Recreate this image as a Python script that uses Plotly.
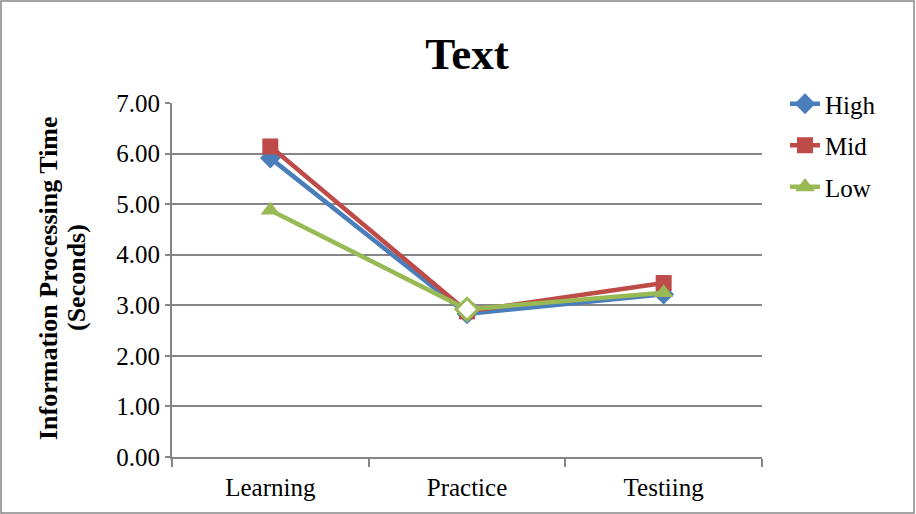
import plotly.graph_objects as go

# Phases on the x axis
phases = ["Learning", "Practice", "Testiing"]

# Information processing time (seconds) per group
high = [5.91, 2.83, 3.22]
mid = [6.14, 2.88, 3.44]
low = [4.88, 2.92, 3.25]

W, H = 916, 514
ML, MR, MT, MB = 172, 154, 103, 57
PW, PH = W - ML - MR, H - MT - MB

FONT = "Liberation Serif, Times New Roman, serif"
GRID = "#868686"

fig = go.Figure()
fig.add_trace(go.Scatter(
    x=phases, y=high, name="High", mode="lines+markers", legendgroup="h",
    line=dict(color="#4A7EBB", width=4.5),
    marker=dict(symbol="diamond", size=16, color="#4A7EBB"),
))
fig.add_trace(go.Scatter(
    x=phases, y=mid, name="Mid", mode="lines+markers", legendgroup="m",
    line=dict(color="#BE4B48", width=4.5),
    marker=dict(symbol="square", size=16, color="#BE4B48"),
))
fig.add_trace(go.Scatter(
    x=phases, y=low, name="Low", mode="lines+markers", legendgroup="l",
    line=dict(color="#98B954", width=4.5),
    marker=dict(
        symbol=["triangle-up", "diamond", "triangle-up"], size=17,
        color=["#98B954", "white", "#98B954"],
        line=dict(color="#98B954", width=[0, 3, 0]),
    ),
))


def px_x(p):
    return (p - ML) / PW


def px_y(p):
    return (H - MB - p) / PH


# two-line rotated y-axis title
ytitle_lines = ["Information Processing Time", "(Seconds)"]
ytitle_x = [48, 76]
annotations = [
    dict(text=f"<b>{t}</b>", xref="paper", yref="paper",
         x=px_x(xp), y=px_y(278), textangle=-90, showarrow=False,
         xanchor="center", yanchor="middle",
         font=dict(family=FONT, size=26, color="black"))
    for t, xp in zip(ytitle_lines, ytitle_x)
]

fig.update_layout(
    width=W, height=H,
    margin=dict(l=ML, r=MR, t=MT, b=MB),
    paper_bgcolor="white", plot_bgcolor="white",
    font=dict(family=FONT, size=25, color="black"),
    title=dict(text="<b>Text</b>", x=(ML + PW / 2) / W, xanchor="center",
               y=1 - 53 / H, yanchor="middle",
               font=dict(family=FONT, size=45, color="black")),
    showlegend=True,
    legend=dict(x=px_x(785), y=px_y(81), xanchor="left", yanchor="top",
                font=dict(family=FONT, size=25),
                tracegroupgap=6, bgcolor="rgba(0,0,0,0)"),
    xaxis=dict(
        type="category", range=[-0.5, 2.5],
        tickson="boundaries", ticks="outside", ticklen=8,
        tickcolor=GRID, tickwidth=2, ticklabelstandoff=7,
        showline=True, linecolor=GRID, linewidth=2,
        showgrid=False, tickfont=dict(family=FONT, size=25),
    ),
    yaxis=dict(
        range=[0, 7], dtick=1, tickformat=".2f",
        ticks="outside", ticklen=5, tickcolor=GRID, tickwidth=2,
        showline=True, linecolor=GRID, linewidth=2,
        showgrid=True, gridcolor=GRID, gridwidth=2,
        zeroline=False, tickfont=dict(family=FONT, size=25),
    ),
    annotations=annotations,
    shapes=[dict(
        type="rect", xref="paper", yref="paper",
        x0=px_x(1), x1=px_x(W - 2), y0=px_y(H - 1), y1=px_y(1),
        line=dict(color=GRID, width=1.5), fillcolor="rgba(0,0,0,0)",
        layer="below",
    )],
)

fig.write_html("out.html")
